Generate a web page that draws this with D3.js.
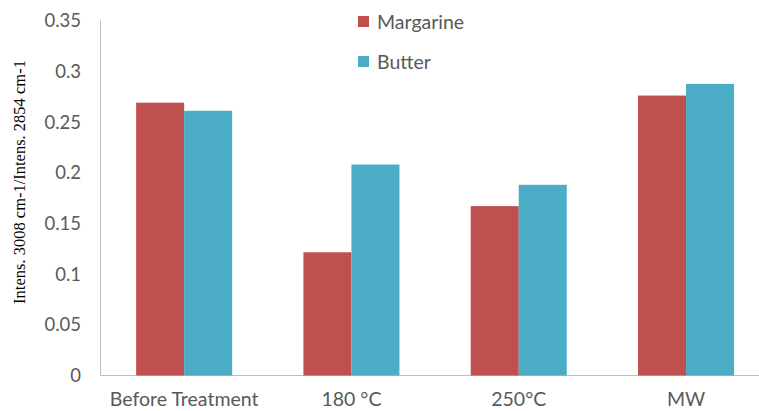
<!DOCTYPE html>
<html><head><meta charset="utf-8">
<script src="https://cdn.jsdelivr.net/npm/d3@7"></script>
<style>body{margin:0;background:#fff}svg{display:block}</style>
</head><body>
<svg id="c" width="759" height="411"></svg>
<script>
const categories = ["Before Treatment", "180 °C", "250°C", "MW"];
const seriesNames = ["Margarine", "Butter"];
const margarine = [0.269, 0.1215, 0.167, 0.276];
const butter = [0.261, 0.208, 0.188, 0.2875];
const yTicks = [0, 0.05, 0.1, 0.15, 0.2, 0.25, 0.3, 0.35];
const colors = ["#C0504D", "#4BACC6"];

const svg = d3.select("#c");
const x0 = 100.5, step = 167.3;
const x = d3.scaleBand().domain(categories).range([x0, x0 + step * categories.length]).paddingInner(0.426).paddingOuter(0.213);
const xs = d3.scaleBand().domain(seriesNames).range([0, x.bandwidth()]);
const y = d3.scaleLinear().domain([0, 0.35]).range([375.5, 20.5]);
const data = [margarine, butter];
const font = "Lato, 'Open Sans', sans-serif";

// axes lines
svg.append("line").attr("x1", x0).attr("x2", x0).attr("y1", y(0.35)).attr("y2", y(0)).attr("stroke", "#BFBFBF").attr("stroke-width", 1);
svg.append("line").attr("x1", x0).attr("x2", 759).attr("y1", y(0)).attr("y2", y(0)).attr("stroke", "#BFBFBF").attr("stroke-width", 1);

// bars
seriesNames.forEach((s, si) => {
  svg.append("g").selectAll("rect").data(data[si]).join("rect")
    .attr("x", (d, i) => x(categories[i]) + xs(s))
    .attr("y", d => y(d))
    .attr("width", xs.bandwidth())
    .attr("height", d => y(0) - y(d))
    .attr("fill", colors[si]);
});

// y tick labels
svg.append("g").selectAll("text").data(yTicks).join("text")
  .attr("x", 81).attr("y", d => y(d)).attr("dy", "0.36em")
  .attr("text-anchor", "end").attr("fill", "#595959")
  .style("font-family", font).style("font-size", "18.5px")
  .text(d => d3.format("")(d));

// x labels
svg.append("g").selectAll("text").data(categories).join("text")
  .attr("x", d => x(d) + x.bandwidth() / 2).attr("y", 406)
  .attr("text-anchor", "middle").attr("fill", "#595959")
  .style("font-family", font).style("font-size", "19.5px")
  .text(d => d);

// y title
svg.append("text").attr("transform", "translate(25,182) rotate(-90)")
  .attr("text-anchor", "middle").attr("fill", "#000")
  .style("font-family", "'Liberation Serif', 'Times New Roman', serif").style("font-size", "16.5px")
  .text("Intens. 3008 cm-1/Intens. 2854 cm-1");

// legend
const lg = svg.append("g");
seriesNames.forEach((s, i) => {
  const ly = 22 + i * 40;
  lg.append("rect").attr("x", 358).attr("y", ly - 6).attr("width", 11).attr("height", 11).attr("fill", colors[i]);
  lg.append("text").attr("x", 377).attr("y", ly).attr("dy", "0.36em").attr("fill", "#595959")
    .style("font-family", font).style("font-size", "19.5px").text(s);
});
</script>
</body></html>
